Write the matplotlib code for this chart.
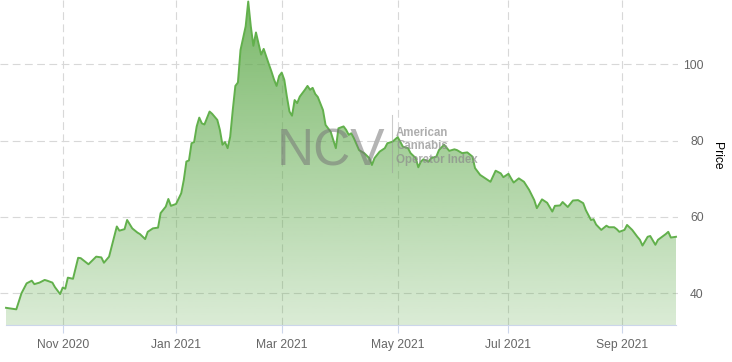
import numpy as np
import pandas as pd
import matplotlib
matplotlib.use('Agg')
import matplotlib.pyplot as plt
from matplotlib.lines import Line2D

plt.rcParams['font.family'] = ['Liberation Sans', 'DejaVu Sans']

# NCV index, daily closes (trading-day axis)
dates = [
    '2020-10-01', '2020-10-07', '2020-10-09', '2020-10-13', '2020-10-15', '2020-10-16',
    '2020-10-20', '2020-10-22', '2020-10-23', '2020-10-27', '2020-10-28', '2020-10-30',
    '2020-11-02', '2020-11-03', '2020-11-04', '2020-11-06', '2020-11-10', '2020-11-11',
    '2020-11-16', '2020-11-19', '2020-11-23', '2020-11-24', '2020-11-26', '2020-12-01',
    '2020-12-02', '2020-12-04', '2020-12-07', '2020-12-09', '2020-12-11', '2020-12-14',
    '2020-12-16', '2020-12-17', '2020-12-21', '2020-12-23', '2020-12-24', '2020-12-28',
    '2020-12-29', '2020-12-30', '2021-01-01', '2021-01-05', '2021-01-06', '2021-01-07',
    '2021-01-08', '2021-01-11', '2021-01-12', '2021-01-13', '2021-01-14', '2021-01-15',
    '2021-01-18', '2021-01-20', '2021-01-21', '2021-01-25', '2021-01-26', '2021-01-27',
    '2021-01-28', '2021-01-29', '2021-02-01', '2021-02-02', '2021-02-03', '2021-02-04',
    '2021-02-05', '2021-02-09', '2021-02-10', '2021-02-11', '2021-02-12', '2021-02-15',
    '2021-02-17', '2021-02-18', '2021-02-19', '2021-02-22', '2021-02-23', '2021-02-24',
    '2021-02-25', '2021-02-26', '2021-03-01', '2021-03-02', '2021-03-03', '2021-03-04',
    '2021-03-05', '2021-03-08', '2021-03-09', '2021-03-10', '2021-03-12', '2021-03-15',
    '2021-03-16', '2021-03-17', '2021-03-18', '2021-03-19', '2021-03-23', '2021-03-24',
    '2021-03-26', '2021-03-30', '2021-03-31', '2021-04-02', '2021-04-05', '2021-04-06',
    '2021-04-07', '2021-04-08', '2021-04-12', '2021-04-14', '2021-04-16', '2021-04-19',
    '2021-04-20', '2021-04-22', '2021-04-26', '2021-04-27', '2021-04-29', '2021-05-03',
    '2021-05-04', '2021-05-05', '2021-05-07', '2021-05-10', '2021-05-12', '2021-05-13',
    '2021-05-14', '2021-05-17', '2021-05-19', '2021-05-20', '2021-05-24', '2021-05-25',
    '2021-05-27', '2021-05-31', '2021-06-02', '2021-06-03', '2021-06-07', '2021-06-09',
    '2021-06-11', '2021-06-14', '2021-06-16', '2021-06-18', '2021-06-22', '2021-06-24',
    '2021-06-28', '2021-06-29', '2021-07-01', '2021-07-02', '2021-07-05', '2021-07-07',
    '2021-07-09', '2021-07-13', '2021-07-15', '2021-07-16', '2021-07-20', '2021-07-22',
    '2021-07-26', '2021-07-27', '2021-07-29', '2021-07-30', '2021-08-03', '2021-08-05',
    '2021-08-09', '2021-08-11', '2021-08-12', '2021-08-13', '2021-08-16', '2021-08-17',
    '2021-08-18', '2021-08-20', '2021-08-24', '2021-08-25', '2021-08-27', '2021-08-30',
    '2021-08-31', '2021-09-02', '2021-09-03', '2021-09-07', '2021-09-09', '2021-09-10',
    '2021-09-13', '2021-09-15', '2021-09-16', '2021-09-20', '2021-09-21', '2021-09-23',
    '2021-09-24', '2021-09-27', '2021-09-28', '2021-09-30',
]
prices = [
    36.2, 35.8, 40.0, 42.6, 43.3, 42.4,
    42.8, 43.5, 43.3, 42.8, 41.6, 39.8,
    41.5, 41.2, 44.1, 43.8, 49.3, 49.2,
    47.6, 49.6, 49.4, 48.0, 49.6, 57.5,
    56.4, 56.8, 59.2, 57.0, 55.9, 55.5,
    54.2, 56.1, 57.0, 57.2, 61.0, 62.7,
    64.7, 62.9, 63.4, 66.2, 69.7, 74.5,
    74.8, 79.3, 79.6, 83.7, 86.0, 84.5,
    84.2, 87.6, 87.0, 85.4, 82.8, 78.9,
    79.6, 78.0, 81.0, 88.0, 94.3, 95.2,
    103.7, 109.9, 116.4, 109.9, 104.8, 108.3,
    102.5, 104.0, 102.0, 100.0, 98.1, 96.0,
    94.3, 96.9, 97.8, 95.9, 91.5, 87.6,
    86.5, 90.6, 89.8, 91.5, 93.3, 94.3,
    93.3, 93.8, 92.2, 91.4, 88.0, 84.1,
    82.3, 78.0, 83.2, 83.7, 82.8, 81.5,
    81.9, 80.6, 77.5, 76.7, 75.4, 73.6,
    75.4, 77.1, 78.0, 79.3, 79.7, 80.9,
    79.7, 78.4, 78.0, 76.7, 75.4, 73.0,
    74.5, 75.1, 74.5, 75.4, 75.8, 77.5,
    78.9, 77.3, 77.7, 77.5, 76.7, 76.9,
    75.8, 72.8, 71.0, 70.1, 69.2, 72.1,
    71.4, 70.4, 71.3, 70.1, 69.0, 70.1,
    69.2, 67.1, 64.4, 62.3, 64.6, 63.7,
    61.4, 62.9, 63.0, 63.9, 62.6, 64.3,
    64.4, 63.6, 61.8, 60.5, 59.2, 59.4,
    58.0, 56.6, 57.7, 57.3, 57.3, 56.8,
    56.1, 56.6, 57.9, 56.6, 54.8, 54.0,
    52.5, 54.8, 55.0, 52.7, 54.0, 55.0,
    55.5, 56.1, 54.6, 54.8,
]
tick_months = ['2020-11-01', '2021-01-01', '2021-03-01', '2021-05-01', '2021-07-01', '2021-09-01']
y_ticks = [40, 60, 80, 100]

# ordinal (trading day) x axis
bdays = pd.bdate_range(dates[0], dates[-1])
pos = bdays.get_indexer(pd.to_datetime(dates))
n = len(bdays) - 1
tick_pos = [bdays.searchsorted(pd.Timestamp(m)) for m in tick_months]
tick_lbl = [pd.Timestamp(m).strftime('%b %Y') for m in tick_months]

W, H = 732, 362
fig = plt.figure(figsize=(W / 100, H / 100), dpi=100)
ax = fig.add_axes([0, 37 / H, 678 / W, 325 / H])

scale = 670 / n
xlo, xhi = -6 / scale, n + 2 / scale
ylo, yhi = 31.7, 116.8
ax.set_xlim(xlo, xhi)
ax.set_ylim(ylo, yhi)

# gradient fill under the line
base = np.array([95, 170, 75]) / 255
grad = np.zeros((256, 1, 4))
grad[:, 0, :3] = base
grad[:, 0, 3] = np.linspace(0.23, 0.83, 256)
im = ax.imshow(grad, extent=[xlo, xhi, ylo, yhi], aspect='auto', origin='lower', zorder=1)
poly = ax.fill_between(pos, prices, ylo, facecolor='none', edgecolor='none')
im.set_clip_path(poly.get_paths()[0], transform=ax.transData)

ax.plot(pos, prices, color='#62b04c', lw=1.4, zorder=3)

ax.set_xticks(tick_pos)
ax.set_xticklabels(tick_lbl)
ax.set_yticks(y_ticks)
ax.grid(True, color='#d8d8d8', lw=0.8, ls=(0, (7, 4)), zorder=0)
ax.set_axisbelow(True)

for s in ['top', 'left', 'right']:
    ax.spines[s].set_visible(False)
ax.spines['bottom'].set_color('#ccd6eb')
ax.spines['bottom'].set_bounds(0, n)

ax.yaxis.tick_right()
ax.tick_params(axis='x', length=6, width=0.8, color='#ccd6eb', pad=4,
               labelsize=8.7, labelcolor='#666666')
ax.tick_params(axis='y', length=0, pad=18.5, labelsize=8.7, labelcolor='#666666')
for lbl in ax.get_yticklabels():
    lbl.set_horizontalalignment('right')

ax.set_ylabel('Price', rotation=270, fontsize=8.7, ha='center', va='center')
ax.yaxis.set_label_position('right')
ax.yaxis.set_label_coords(723 / 678, (325 - 156) / 325)

# watermark
fig.text(277 / W, 1 - 165 / H, 'NCV', fontsize=37, color='#777777', alpha=0.55,
         va='baseline', ha='left', zorder=5)
fig.add_artist(Line2D([392 / W, 392 / W], [1 - 172 / H, 1 - 115 / H],
                      color='#999999', lw=0.8, alpha=0.5))
for i, t in enumerate(['American', 'Cannabis', 'Operator Index']):
    fig.text(396 / W, 1 - (136 + 13.3 * i) / H, t, fontsize=8.3, fontweight='bold',
             color='#8c8c8c', alpha=0.7, va='baseline', ha='left', zorder=5)

fig.savefig('out.png', dpi=100)
